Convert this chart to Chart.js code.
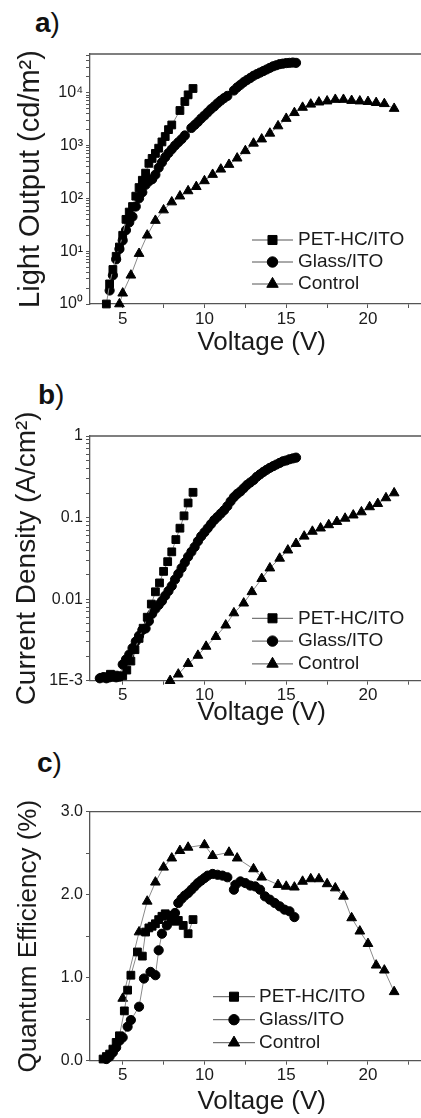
<!DOCTYPE html>
<html><head><meta charset="utf-8">
<script src="https://cdn.jsdelivr.net/npm/chart.js@4/dist/chart.umd.min.js"></script>
<style>
html,body{margin:0;padding:0;background:#fff;overflow:hidden;width:421px;height:1118px;}
.box{position:absolute;left:0;width:440px;}
.lab{position:absolute;font-family:"Liberation Sans",Arial,sans-serif;font-size:28px;line-height:28px;color:#111;}
.lab b{font-weight:bold;}
.lab span{font-weight:normal;}
</style></head><body>
<div class="lab" style="left:35px;top:9px"><b>a</b><span>)</span></div>
<div class="lab" style="left:38px;top:381px"><b>b</b><span>)</span></div>
<div class="lab" style="left:37px;top:749px"><b>c</b><span>)</span></div>
<div class="box" style="top:0;height:370px"><canvas id="ca" width="440" height="370"></canvas></div>
<div class="box" style="top:370px;height:370px"><canvas id="cb" width="440" height="370"></canvas></div>
<div class="box" style="top:740px;height:378px"><canvas id="cc" width="440" height="378"></canvas></div>
<script>
// ---------- series labels ----------
const seriesNames = ['PET-HC/ITO', 'Glass/ITO', 'Control'];

// ---------- axis ticks ----------
const xTicks = [5, 7.5, 10, 12.5, 15, 17.5, 20, 22.5];
const xTickLabels = ['5', '', '10', '', '15', '', '20', ''];
const yMajorA = [1, 10, 100, 1000, 10000];
const yLabelsA = ['10\u2070', '10\u00B9', '10\u00B2', '10\u00B3', '10\u2074'];
const yMajorB = [0.001, 0.01, 0.1, 1];
const yLabelsB = ['1E-3', '0.01', '0.1', '1'];
const yTicksC = [0, 0.5, 1, 1.5, 2, 2.5, 3];
const yLabelsC = ['0.0', '', '1.0', '', '2.0', '', '3.0'];

// ---------- panel a: light output (cd/m2) ----------
const voltPetA = [4.0,4.2,4.4,4.6,4.8,5.0,5.2,5.4,5.6,5.8,6.0,6.2,6.4,6.6,6.8,7.0,7.2,7.4,7.6,7.8,8.0,8.5,8.8,9.0,9.3];
const lumPetA  = [1.0,2.4,4.5,8,12,20,40,55,70,110,160,220,300,460,570,710,890,1170,1480,2000,2450,4600,6800,9100,12000];
const voltGlassA = [4.2,4.4,4.6,4.8,5.0,5.2,5.4,5.6,5.8,6.0,6.2,6.4,6.6,6.8,7.0,7.2,7.4,7.6,7.8,8.0,8.2,8.4,8.6,8.8,9.2,9.4,9.6,9.8,10.0,10.2,10.4,10.6,10.8,11.0,11.2,11.4,11.8,12.0,12.2,12.4,12.6,12.8,13.0,13.2,13.4,13.6,13.8,14.0,14.2,14.4,14.6,14.8,15.0,15.2,15.4,15.6];
const lumGlassA  = [1.8,3.5,7,11,16,25,35,45,70,100,130,180,210,230,280,380,480,600,720,850,1000,1150,1320,1550,2150,2450,2800,3250,3700,4250,4900,5500,6300,7100,7900,8700,11000,12600,14100,15800,17400,19000,20900,22400,24000,25700,27500,29500,31600,33100,34700,35500,36300,36700,37200,36700];
const voltCtrlA = [4.8,5.0,5.5,6.0,6.5,7.0,7.5,8.0,8.5,9.0,9.5,10.0,10.5,11.0,11.5,12.0,12.5,13.0,13.5,14.0,14.5,15.0,15.5,16.0,16.5,17.0,17.5,18.0,18.5,19.0,19.5,20.0,20.5,21.0,21.6];
const lumCtrlA  = [1.0,1.6,3.5,9,20,38,60,85,110,138,166,214,282,355,436,575,794,1100,1320,1700,2340,3240,4170,5250,6030,6610,6920,7410,7410,7080,6920,6760,6460,6170,5010];

// ---------- panel b: current density (A/cm2) ----------
const voltPetB = [3.8,4.0,4.25,4.5,4.75,5.0,5.25,5.5,5.75,6.0,6.25,6.5,6.75,7.0,7.25,7.5,7.75,8.0,8.25,8.5,8.75,9.0,9.3];
const curPetB  = [0.0011,0.00112,0.0012,0.00117,0.00112,0.00115,0.00135,0.00174,0.0024,0.0033,0.0044,0.006,0.0087,0.0123,0.0158,0.0219,0.0288,0.038,0.0537,0.0741,0.105,0.151,0.204];
const voltGlassB = [3.6,3.8,4.0,4.2,4.4,4.6,4.8,5.0,5.2,5.4,5.6,5.8,6.0,6.2,6.4,6.6,6.8,7.0,7.2,7.4,7.6,7.8,8.0,8.2,8.4,8.6,8.8,9.0,9.2,9.4,9.6,9.8,10.0,10.2,10.4,10.6,10.8,11.0,11.2,11.4,11.6,11.8,12.0,12.2,12.4,12.6,12.8,13.0,13.2,13.4,13.6,13.8,14.0,14.2,14.4,14.6,14.8,15.0,15.2,15.4,15.6];
const curGlassB  = [0.00107,0.0011,0.00107,0.0011,0.00112,0.0011,0.00112,0.00158,0.00182,0.00209,0.00251,0.00302,0.00355,0.00417,0.00437,0.00537,0.0066,0.0076,0.0085,0.0095,0.011,0.0126,0.0145,0.0174,0.0204,0.024,0.0282,0.0331,0.038,0.0437,0.0513,0.0589,0.066,0.0741,0.0832,0.0933,0.102,0.112,0.123,0.138,0.158,0.178,0.195,0.209,0.229,0.251,0.269,0.288,0.316,0.339,0.363,0.385,0.407,0.427,0.447,0.468,0.49,0.501,0.519,0.531,0.543];
const voltCtrlB = [7.9,8.4,9.0,9.6,10.1,10.7,11.3,11.8,12.4,12.9,13.5,14.0,14.6,15.1,15.6,16.1,16.6,17.1,17.6,18.1,18.6,19.1,19.6,20.1,20.6,21.1,21.6];
const curCtrlB  = [0.001,0.0012,0.00162,0.00204,0.00263,0.00347,0.00479,0.00676,0.00891,0.0123,0.0178,0.024,0.0316,0.0398,0.0479,0.0589,0.0676,0.0741,0.0813,0.0891,0.0977,0.107,0.117,0.135,0.148,0.174,0.2];

// ---------- panel c: quantum efficiency (%) ----------
const voltPetC = [3.8,4.0,4.2,4.4,4.6,4.8,5.1,5.3,5.5,5.9,6.2,6.4,6.6,6.8,7.0,7.2,7.4,7.6,7.8,8.0,8.2,8.4,8.7,9.0,9.3];
const qePetC   = [0.02,0.05,0.08,0.14,0.22,0.30,0.60,0.85,1.03,1.31,1.26,1.55,1.60,1.62,1.65,1.70,1.74,1.77,1.75,1.72,1.68,1.69,1.63,1.53,1.70];
const voltGlassC = [4.0,4.2,4.4,4.6,4.8,5.0,5.3,5.5,6.0,6.3,6.7,7.0,7.2,7.4,7.7,8.0,8.2,8.4,8.6,8.8,9.0,9.2,9.4,9.6,9.8,10.0,10.2,10.5,10.8,11.1,11.4,11.8,11.9,12.2,12.5,12.8,13.1,13.4,13.7,14.0,14.3,14.6,14.9,15.2,15.5];
const qeGlassC   = [0.02,0.05,0.10,0.16,0.24,0.28,0.41,0.49,0.65,0.99,1.07,1.03,1.33,1.53,1.63,1.70,1.78,1.90,1.95,1.99,2.02,2.06,2.10,2.14,2.17,2.20,2.23,2.25,2.24,2.23,2.21,2.06,2.12,2.16,2.14,2.11,2.10,2.06,1.98,1.94,1.90,1.86,1.82,1.80,1.73];
const voltCtrlC = [5.0,6.0,6.5,7.0,7.5,8.0,8.5,9.0,10.0,10.5,11.5,12.0,13.0,13.5,14.5,15.0,15.5,16.0,16.5,17.0,17.5,18.0,18.5,19.0,19.5,20.0,20.5,21.0,21.6];
const qeCtrlC   = [0.75,1.55,1.92,2.15,2.33,2.44,2.53,2.57,2.60,2.47,2.51,2.44,2.31,2.21,2.12,2.10,2.09,2.16,2.19,2.19,2.13,2.08,1.98,1.72,1.56,1.41,1.15,1.09,0.83];

// ---------- helpers ----------
const FONT = '"Liberation Sans", Arial, Helvetica, sans-serif';
Chart.defaults.font.family = FONT;
Chart.defaults.color = '#1a1a1a';
const AXIS = '#555';

function pts(xs, ys){ return xs.map((x,i)=>({x:x, y:ys[i]})); }
function logTicks(majors, maxV){
  const out = [];
  majors.forEach(m => { for (let k=1;k<10;k++){ const v = m*k; if (v <= maxV*1.0001) out.push(v); } });
  return out;
}
function majorLabel(v, majors, labels){
  for (let i=0;i<majors.length;i++){
    if (Math.abs(Math.log10(v) - Math.log10(majors[i])) < 1e-6) return labels[i];
  }
  return '';
}
const styles = [
  {pointStyle:'rect', radius:5.5},
  {pointStyle:'circle', radius:4.6},
  {pointStyle:'triangle', radius:5.6}
];
function makeSets(data){
  return data.map((d,i)=>({
    label: seriesNames[i],
    data: d,
    showLine: true,
    borderColor: '#8a8a8a',
    borderWidth: 1,
    pointStyle: styles[i].pointStyle,
    pointRadius: styles[i].radius,
    pointBackgroundColor: '#000',
    pointBorderColor: '#000',
    pointBorderWidth: 1,
    clip: false
  }));
}

const insideLegend = {
  id: 'insideLegend',
  afterDatasetsDraw(chart, args, o){
    const ctx = chart.ctx;
    const rs = {rect:6.4, circle:5.2, triangle:6.6};
    ctx.save();
    chart.data.datasets.forEach((ds,i)=>{
      const y = o.y + i*o.dy;
      ctx.strokeStyle = '#555'; ctx.lineWidth = 1;
      ctx.beginPath(); ctx.moveTo(o.x, y); ctx.lineTo(o.x + o.len, y); ctx.stroke();
      ctx.fillStyle = '#000'; ctx.strokeStyle = '#000';
      Chart.helpers.drawPoint(ctx, {pointStyle: ds.pointStyle, radius: rs[ds.pointStyle], borderWidth: 1, rotation: 0}, o.x + o.len/2, y);
      ctx.fillStyle = '#1a1a1a';
      ctx.font = '19px ' + FONT;
      ctx.textBaseline = 'middle'; ctx.textAlign = 'left';
      ctx.fillText(ds.label, o.x + o.len + o.gap, y);
    });
    ctx.restore();
  }
};
const topFrame = {
  id: 'topFrame',
  afterDraw(chart){
    const {ctx, chartArea:a} = chart;
    ctx.save(); ctx.strokeStyle = AXIS; ctx.lineWidth = 1.3;
    ctx.beginPath(); ctx.moveTo(a.left, a.top); ctx.lineTo(a.right + 5, a.top); ctx.stroke();
    ctx.restore();
  }
};

function xAxis(h, titlePadBottom, tickPad){
  return {
    type: 'linear', min: 3, max: 24,
    afterBuildTicks: s => { s.ticks = xTicks.map(v=>({value:v})); },
    afterFit: s => { s.height = h; },
    ticks: { autoSkip:false, maxRotation:0, padding: tickPad, font:{size:17}, color:'#1a1a1a',
      callback: (v) => { const i = xTicks.indexOf(v); return i>=0 ? xTickLabels[i] : ''; } },
    grid: { drawOnChartArea:false, drawTicks:true, tickLength:4, tickColor:AXIS, tickWidth:1 },
    border: { display:true, color:AXIS, width:1.3 },
    title: { display:true, text:'Voltage (V)', font:{size:26}, color:'#1a1a1a', padding:{top:0, bottom:titlePadBottom} }
  };
}
function yBase(title, size, pad){
  return {
    afterFit: s => { s.width = 90; },
    grid: { drawOnChartArea:false, drawTicks:true, tickLength:4, tickColor:AXIS, tickWidth:1 },
    border: { display:true, color:AXIS, width:1.3 },
    title: { display:true, text:title, font:{size:size}, color:'#1a1a1a', padding:{top:pad, bottom:0} }
  };
}
function makeChart(id, sets, yScale, layoutTop, xs, legend){
  return new Chart(document.getElementById(id), {
    type: 'scatter',
    data: { datasets: makeSets(sets) },
    options: {
      responsive:false, animation:false, devicePixelRatio:1,
      layout: { padding: { top: layoutTop, left:0, right:0, bottom:0 } },
      scales: { x: xs, y: yScale },
      plugins: { legend:{display:false}, tooltip:{enabled:false}, insideLegend: legend }
    },
    plugins: [insideLegend, topFrame]
  });
}

// panel a
const yA = Object.assign(yBase('Light Output (cd/m\u00B2)', 29, 13.5), {
  type:'logarithmic', min:1, max:54000,
  afterBuildTicks: s => { s.ticks = logTicks(yMajorA, 54000).map(v=>({value:v})); },
  ticks: { autoSkip:false, padding:3, font:{size:16}, color:'#1a1a1a', callback: v => majorLabel(v, yMajorA, yLabelsA) }
});
makeChart('ca', [pts(voltPetA,lumPetA), pts(voltGlassA,lumGlassA), pts(voltCtrlA,lumCtrlA)], yA, 54, xAxis(66, 12, 1),
  {x:252, y:240, dy:22, len:41, gap:5});

// panel b
const yB = Object.assign(yBase('Current Density (A/cm\u00B2)', 28, 10.5), {
  type:'logarithmic', min:0.001, max:1,
  afterBuildTicks: s => { s.ticks = logTicks(yMajorB, 1).map(v=>({value:v})); },
  ticks: { autoSkip:false, padding:3, font:{size:16}, color:'#1a1a1a', callback: v => majorLabel(v, yMajorB, yLabelsB) }
});
makeChart('cb', [pts(voltPetB,curPetB), pts(voltGlassB,curGlassB), pts(voltCtrlB,curCtrlB)], yB, 66, xAxis(59.3, 12, 0),
  {x:252, y:248.3, dy:22.8, len:41, gap:5});

// panel c
const yC = Object.assign(yBase('Quantum Efficiency (%)', 26, 13.4), {
  type:'linear', min:0, max:3,
  afterBuildTicks: s => { s.ticks = yTicksC.map(v=>({value:v})); },
  ticks: { autoSkip:false, padding:3, font:{size:16}, color:'#1a1a1a',
    callback: v => { const i = yTicksC.indexOf(v); return i>=0 ? yLabelsC[i] : ''; } }
});
makeChart('cc', [pts(voltPetC,qePetC), pts(voltGlassC,qeGlassC), pts(voltCtrlC,qeCtrlC)], yC, 71.7, xAxis(57.3, 1, 0),
  {x:213, y:256.7, dy:23, len:42, gap:4});
</script>
</body></html>
